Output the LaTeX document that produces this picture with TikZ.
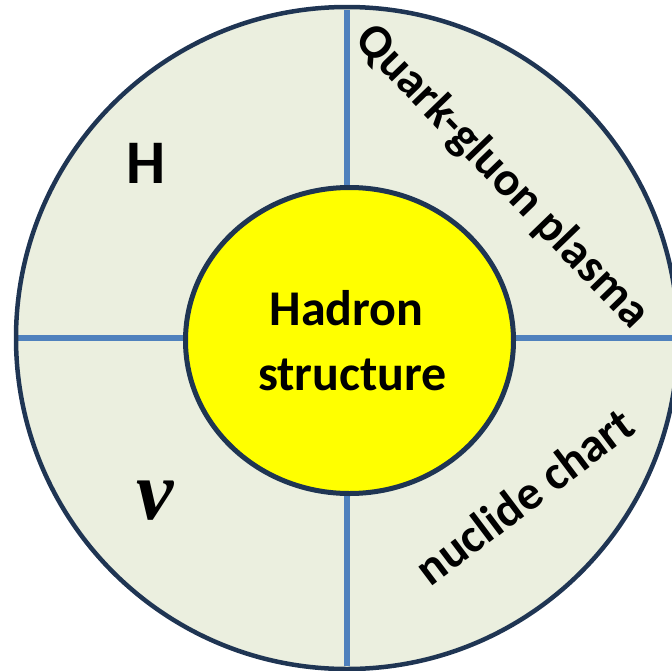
\documentclass[tikz,border=0pt]{standalone}
\usepackage{fontspec}
\setmainfont{Carlito}
\newfontfamily\greekserif{Liberation Serif}
\usetikzlibrary{shapes.geometric}
\definecolor{ringfill}{HTML}{EBEFDF}
\definecolor{navy}{HTML}{1F3553}
\definecolor{divblue}{HTML}{4F81BD}
\definecolor{coreyellow}{HTML}{FFFF00}
\tikzset{
  divider/.style={draw=divblue, line width=6.5pt},
  label/.style={text=black, font=\fontsize{48}{48}\selectfont\bfseries, inner sep=0pt},
}
\begin{document}
\begin{tikzpicture}[x=1pt,y=-1pt]
\useasboundingbox (0,0) rectangle (672,670);
\clip (0,0) rectangle (672,670);
\coordinate (c) at (347,338);
\fill[ringfill] (c) circle[radius=329];
\coordinate (top) at (347,10);
\coordinate (bot) at (347,666);
\coordinate (left) at (16,338);
\coordinate (right) at (680,338);
\draw[divider] (top) -- (bot);
\draw[divider] (left) -- (right);
\draw[navy, line width=4.5pt] (c) circle[radius=331];
\node[ellipse, draw=navy, line width=5pt, fill=coreyellow, minimum width=328pt, minimum height=306pt, inner sep=0pt,
      align=center, font=\fontsize{50}{65}\selectfont\bfseries] (core) at (349.5,340.5) {\hspace*{-6pt}Hadron\\ \hspace*{6pt}structure};
\node[label, font=\fontsize{62}{62}\selectfont\bfseries] (h) at (146,163) {H};
\node[label, font=\fontsize{84}{84}\selectfont\greekserif\bfseries\itshape] (nu) at (155,501) {ν};
\node[label, rotate=-46] (qgp) at (502,177) {Quark-gluon plasma};
\node[label, rotate=37] (nuc) at (524,496) {nuclide chart};
\end{tikzpicture}
\end{document}
